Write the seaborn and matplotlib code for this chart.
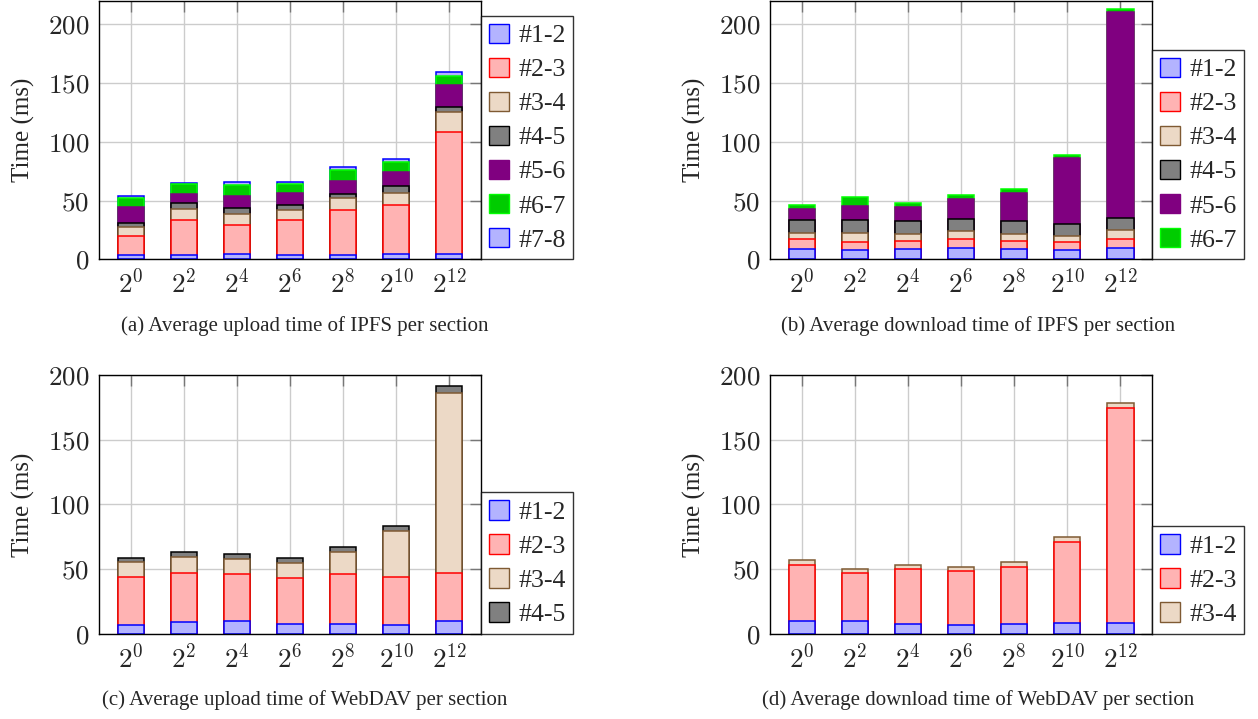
import numpy as np
import matplotlib
matplotlib.use("Agg")
import matplotlib.pyplot as plt
import seaborn as sns
from matplotlib.patches import Patch
from matplotlib.ticker import FuncFormatter

sns.set_style("white")
plt.rcParams['font.family'] = ['Liberation Serif', 'DejaVu Serif']
plt.rcParams['mathtext.fontset'] = 'cm'

# x categories (file size)
sizes = ['$2^{0}$', '$2^{2}$', '$2^{4}$', '$2^{6}$', '$2^{8}$', '$2^{10}$', '$2^{12}$']

# (a) IPFS upload, per section (ms)
ipfs_up_12 = [4.0, 4.0, 4.3, 4.0, 4.0, 4.3, 4.3]
ipfs_up_23 = [15.6, 29.8, 24.7, 29.5, 37.8, 41.7, 103.9]
ipfs_up_34 = [8.0, 9.1, 9.9, 8.8, 10.2, 10.8, 16.8]
ipfs_up_45 = [3.7, 4.8, 4.6, 4.3, 4.0, 5.4, 5.1]
ipfs_up_56 = [13.3, 8.3, 10.8, 9.7, 11.0, 12.2, 17.9]
ipfs_up_67 = [8.0, 7.9, 8.8, 7.9, 9.4, 8.6, 8.5]
ipfs_up_78 = [1.4, 1.4, 2.8, 1.7, 2.0, 2.2, 2.6]

# (b) IPFS download
ipfs_down_12 = [8.8, 8.0, 8.8, 9.4, 8.8, 8.2, 9.4]
ipfs_down_23 = [8.2, 6.5, 6.5, 7.6, 7.1, 6.3, 7.6]
ipfs_down_34 = [5.7, 7.7, 6.6, 6.9, 6.0, 5.1, 7.7]
ipfs_down_45 = [10.5, 11.3, 10.5, 10.8, 10.5, 10.5, 10.2]
ipfs_down_56 = [10.0, 12.0, 12.2, 16.7, 24.4, 56.3, 175.3]
ipfs_down_67 = [3.1, 7.6, 3.1, 3.1, 3.4, 2.5, 2.9]

# (c) WebDAV upload
dav_up_12 = [7.0, 8.8, 9.8, 7.2, 7.7, 6.7, 9.5]
dav_up_23 = [36.6, 38.1, 36.6, 36.1, 38.2, 36.9, 37.1]
dav_up_34 = [11.8, 12.6, 11.3, 11.3, 17.0, 35.5, 139.5]
dav_up_45 = [3.1, 3.4, 3.6, 3.6, 4.1, 4.1, 5.1]

# (d) WebDAV download
dav_down_12 = [10.0, 9.5, 7.2, 6.4, 7.2, 8.0, 8.2]
dav_down_23 = [43.4, 37.1, 42.5, 42.1, 44.3, 63.1, 166.3]
dav_down_34 = [3.8, 3.4, 3.4, 3.3, 3.7, 3.4, 4.1]

# section name -> (fill, edge)
styles = {
    '#1-2': ('#b3b3ff', '#0000ff'),
    '#2-3': ('#ffb3b3', '#ff0000'),
    '#3-4': ('#ecd9c6', '#7f5a33'),
    '#4-5': ('#808080', '#000000'),
    '#5-6': ('#800080', '#800080'),
    '#6-7': ('#00cc00', '#00ff00'),
    '#7-8': ('#b3b3ff', '#0000ff'),
}

panels = [
    ([0.0787, 0.6394, 0.3037, 0.3593], 220,
     [('#1-2', ipfs_up_12), ('#2-3', ipfs_up_23), ('#3-4', ipfs_up_34), ('#4-5', ipfs_up_45),
      ('#5-6', ipfs_up_56), ('#6-7', ipfs_up_67), ('#7-8', ipfs_up_78)],
     '(a) Average upload time of IPFS per section', (0.2425, 0.5466)),
    ([0.6121, 0.6394, 0.3037, 0.3593], 220,
     [('#1-2', ipfs_down_12), ('#2-3', ipfs_down_23), ('#3-4', ipfs_down_34), ('#4-5', ipfs_down_45),
      ('#5-6', ipfs_down_56), ('#6-7', ipfs_down_67)],
     '(b) Average download time of IPFS per section', (0.7775, 0.5466)),
    ([0.0787, 0.1186, 0.3037, 0.3598], 200,
     [('#1-2', dav_up_12), ('#2-3', dav_up_23), ('#3-4', dav_up_34), ('#4-5', dav_up_45)],
     '(c) Average upload time of WebDAV per section', (0.2425, 0.0264)),
    ([0.6121, 0.1186, 0.3037, 0.3598], 200,
     [('#1-2', dav_down_12), ('#2-3', dav_down_23), ('#3-4', dav_down_34)],
     '(d) Average download time of WebDAV per section', (0.7775, 0.0264)),
]

fig = plt.figure(figsize=(12.58, 7.19), dpi=100)

for rect, ymax, series, caption, cap_xy in panels:
    ax = fig.add_axes(rect)
    cums = np.cumsum([s[1] for s in series], axis=0)
    # draw from the top layer down so each lower segment covers the one above
    for k in range(len(series) - 1, -1, -1):
        name = series[k][0]
        fc, ec = styles[name]
        sns.barplot(x=sizes, y=cums[k], color=fc, edgecolor=ec, linewidth=1.1,
                    width=0.5, saturation=1, errorbar=None, ax=ax)
    ax.set_xlim(-0.6, 6.6)
    ax.set_ylim(0, ymax)
    ax.set_yticks([0, 50, 100, 150, 200])
    ax.yaxis.set_major_formatter(FuncFormatter(lambda v, p: '$%d$' % v))
    ax.set_axisbelow(True)
    ax.grid(True, axis='both', color='#cccccc', linewidth=1)
    ax.tick_params(direction='in', top=True, right=True, length=8, width=1,
                   color='#777777', labelsize=19.5, pad=7)
    for sp in ax.spines.values():
        sp.set_color('black')
        sp.set_linewidth(1)
    ax.set_ylabel('Time (ms)', fontsize=18, labelpad=9)
    ax.set_xlabel('')

    handles = [Patch(facecolor=styles[n][0], edgecolor=styles[n][1], label=n) for n, _ in series]
    leg = ax.legend(handles=handles, loc='lower left', bbox_to_anchor=(1.0, 0.0),
                    fontsize=18.5, frameon=True, fancybox=False, edgecolor='black',
                    handlelength=0.8, handleheight=0.8, handletextpad=0.35,
                    labelspacing=0.4, borderpad=0.3, borderaxespad=0.0)
    leg.get_frame().set_linewidth(1)

    fig.text(cap_xy[0], cap_xy[1], caption, ha='center', va='center', fontsize=15)

fig.savefig('out.png', dpi=100)
